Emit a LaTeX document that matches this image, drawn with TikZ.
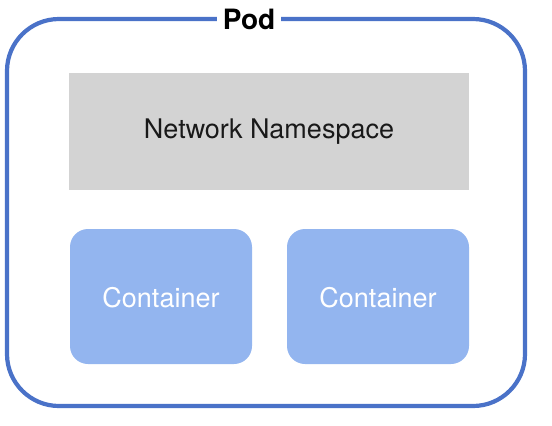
\documentclass[tikz,border=0pt]{standalone}
\usepackage{fontspec}
\setmainfont{TeX Gyre Heros}
\definecolor{podblue}{HTML}{4A72C8}
\definecolor{nsgray}{HTML}{D3D3D3}
\definecolor{ctblue}{HTML}{93B5EF}
\begin{document}
\begin{tikzpicture}[x=1pt,y=-1pt,
  podbox/.style={draw=podblue,line width=4.2pt,rounded corners=52pt},
  nsbox/.style={fill=nsgray,draw=none},
  ctbox/.style={fill=ctblue,draw=none,rounded corners=18pt},
  lbl/.style={font=\fontsize{27}{31}\selectfont}]
\useasboundingbox (0,0) rectangle (552,426);
\draw[podbox] (7,19) rectangle (525,406);
\node[fill=white,inner xsep=6pt,inner ysep=2pt,font=\fontsize{28}{32}\selectfont\bfseries] (pod) at (249,19) {Pod};
\fill[nsbox] (69,73) rectangle (469,190);
\node[lbl,text=black!90] (ns) at (269,132) {Network Namespace};
\fill[ctbox] (70,229) rectangle (252,364);
\node[lbl,text=white] (c1) at (161,298) {Container};
\fill[ctbox] (287,229) rectangle (469,364);
\node[lbl,text=white] (c2) at (378,298) {Container};
\end{tikzpicture}
\end{document}
